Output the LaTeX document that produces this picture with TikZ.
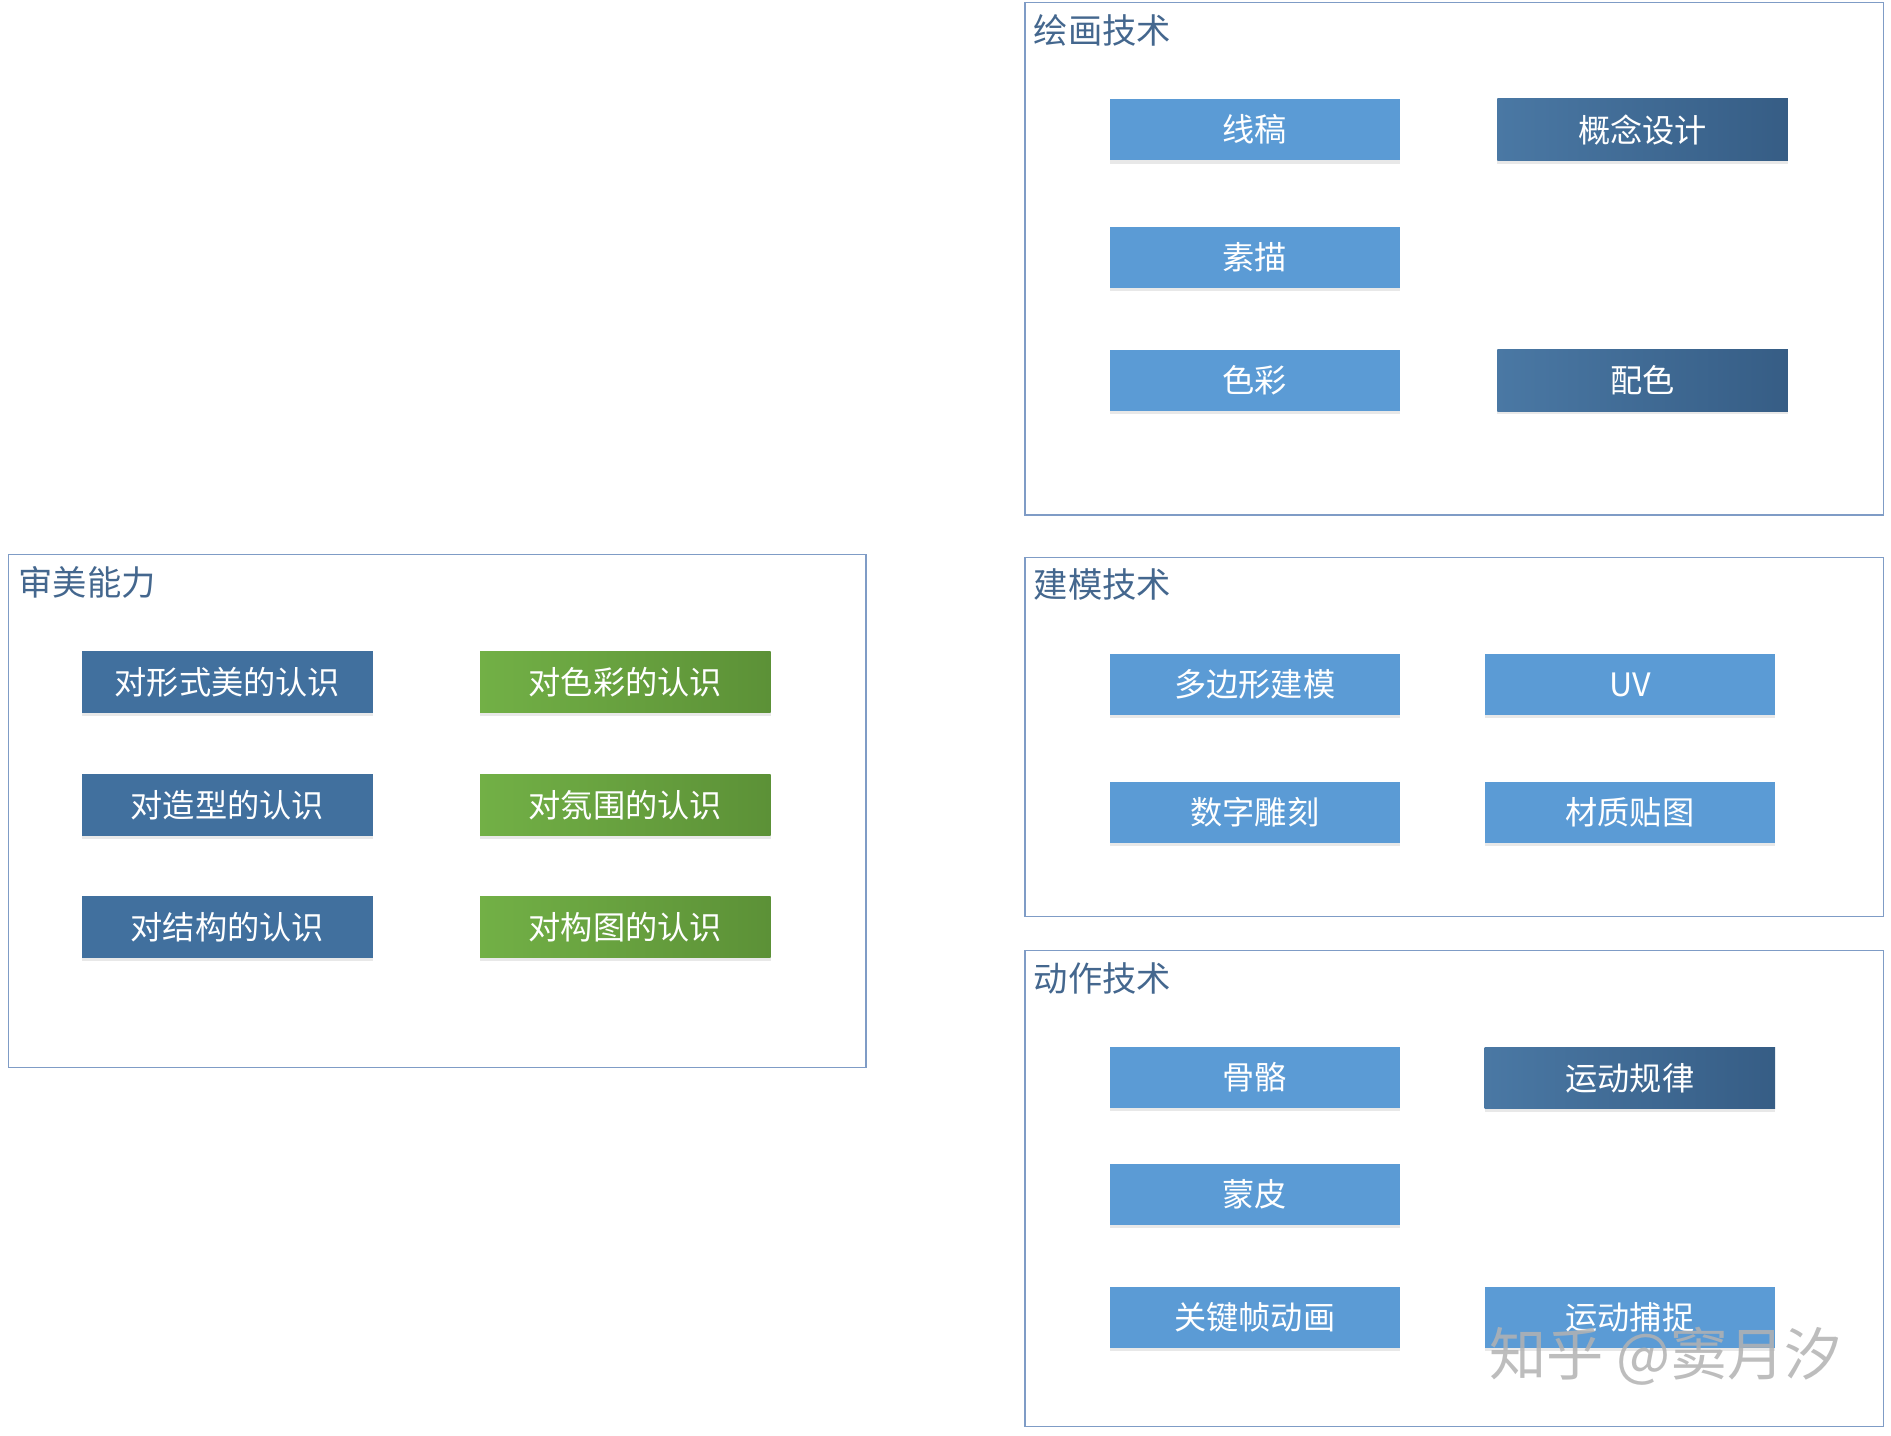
\documentclass[tikz,border=0pt]{standalone}
\usepackage{fontspec}
\setmainfont{Noto Sans CJK SC}
\usetikzlibrary{shadows}

\definecolor{frameline}{HTML}{7F9CC6}
\definecolor{titleblue}{HTML}{44678E}
\definecolor{paleblue}{HTML}{5B9BD5}
\definecolor{deepblue}{HTML}{41709E}
\definecolor{deepblueA}{HTML}{4A78A4}
\definecolor{deepblueB}{HTML}{365D85}
\definecolor{grassA}{HTML}{72B046}
\definecolor{grassB}{HTML}{5C9137}

\tikzset{
  panel/.style={draw=frameline, line width=0.6pt},
  paneltitle/.style={anchor=west, inner sep=0pt, text=titleblue, font=\fontsize{16.2}{17}\selectfont},
  skill/.style={minimum width=4.82cm, minimum height=1.02cm, inner sep=0pt, text=white,
    font=\fontsize{15.2}{16}\selectfont, drop shadow={opacity=0.18, shadow xshift=0pt, shadow yshift=-1.5pt}},
  plain/.style={skill, fill=paleblue},
  solid/.style={skill, fill=deepblue},
  focus/.style={skill, left color=deepblueA, right color=deepblueB},
  grass/.style={skill, left color=grassA, right color=grassB},
  watermark/.style={text=gray!60, opacity=0.85, font=\fontsize{27}{28}\selectfont}
}

\begin{document}
\begin{tikzpicture}[x=0.02cm, y=-0.02cm]
\useasboundingbox (0,0) rectangle (1568,1190);

\draw[panel] (850,2) rectangle (1562,427); \node[paneltitle] (huihua) at (857,25) {绘画技术};
\foreach \y/\n/\t in {107.5/xiangao/线稿, 213.5/sumiao/素描, 315.5/secai/色彩} \node[plain] (\n) at (1040.5,\y) {\t};
\foreach \y/\n/\t in {107.5/gainian/概念设计, 315.5/peise/配色} \node[focus] (\n) at (1362,\y) {\t};

\draw[panel] (850,462) rectangle (1562,760); \node[paneltitle] (jianmo) at (857,485) {建模技术};
\foreach \y/\n/\t in {567.5/duobian/多边形建模, 673.5/diaoke/数字雕刻} \node[plain] (\n) at (1040.5,\y) {\t};
\foreach \y/\n/\t in {567.5/uv/UV, 673.5/caizhi/材质贴图} \node[plain] (\n) at (1351.5,\y) {\t};

\draw[panel] (850,788) rectangle (1562,1183); \node[paneltitle] (dongzuo) at (857,811) {动作技术};
\foreach \y/\n/\t in {893.5/guge/骨骼, 990.5/mengpi/蒙皮, 1092.5/guanjian/关键帧动画} \node[plain] (\n) at (1040.5,\y) {\t};
\node[focus] (guilv) at (1351.5,894) {运动规律};
\node[plain] (buzhuo) at (1351.5,1092.5) {运动捕捉};

\draw[panel] (7,460) rectangle (718,885); \node[paneltitle] (shenmei) at (15,483) {审美能力};
\foreach \y/\n/\t in {565.5/xingshi/对形式美的认识, 667.5/zaoxing/对造型的认识, 768.5/jiegou/对结构的认识} \node[solid] (\n) at (188.5,\y) {\t};
\foreach \y/\n/\t in {565.5/secairen/对色彩的认识, 667.5/fenwei/对氛围的认识, 768.5/goutu/对构图的认识} \node[grass] (\n) at (518.5,\y) {\t};

\node[watermark] (wm) at (1381,1125) {知乎 @窦月汐};
\end{tikzpicture}
\end{document}
